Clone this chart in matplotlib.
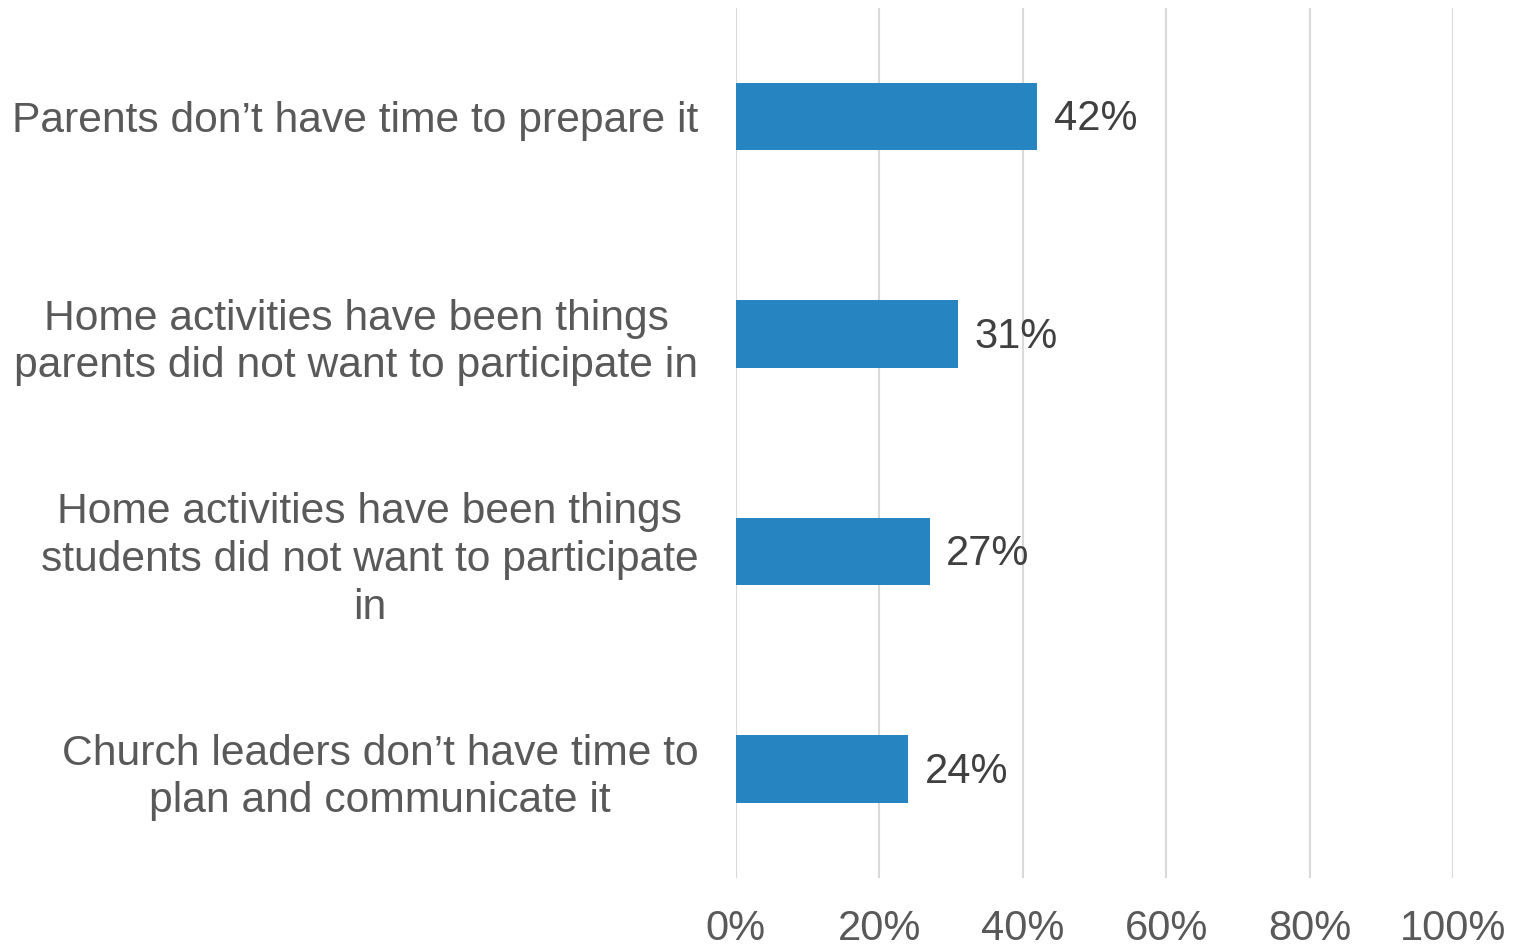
import matplotlib.pyplot as plt
import numpy as np

plt.rcParams['font.family'] = ['Liberation Sans', 'DejaVu Sans']

categories = [
    "Parents don\u2019t have time to prepare it",
    "Home activities have been things\nparents did not want to participate in",
    "Home activities have been things\nstudents did not want to participate\nin",
    "Church leaders don\u2019t have time to\nplan and communicate it",
]
values = [42, 31, 27, 24]
xticks = [0, 20, 40, 60, 80, 100]

fig = plt.figure(figsize=(15.18, 9.47), dpi=100)
ax = fig.add_axes([0.4848, 0.0729, 0.4724, 0.9187])

y = np.arange(len(categories))
ax.barh(y, values, height=0.31, color='#2685C0', zorder=3)
for yi, v in zip(y, values):
    ax.annotate(f"{v}%", (v, yi), xytext=(12, -2), textcoords='offset points',
                va='center', ha='left', fontsize=30, color='#404040')

ax.set_ylim(len(categories) - 0.5, -0.5)
ax.set_xlim(0, 100)
ax.set_xticks(xticks)
ax.set_xticklabels([f"{t}%" for t in xticks], fontsize=30, color='#595959')
ax.set_yticks(y)
ax.set_yticklabels(categories, fontsize=30.7, color='#595959')
for lab in ax.get_yticklabels():
    lab.set_multialignment('center')
    lab.set_linespacing(1.25)
ax.tick_params(axis='both', length=0)
ax.tick_params(axis='x', pad=22)
ax.tick_params(axis='y', pad=27)
ax.grid(axis='x', color='#d9d9d9', linewidth=1.5, zorder=0)
for s in ax.spines.values():
    s.set_visible(False)

fig.savefig("out.png", dpi=100)
